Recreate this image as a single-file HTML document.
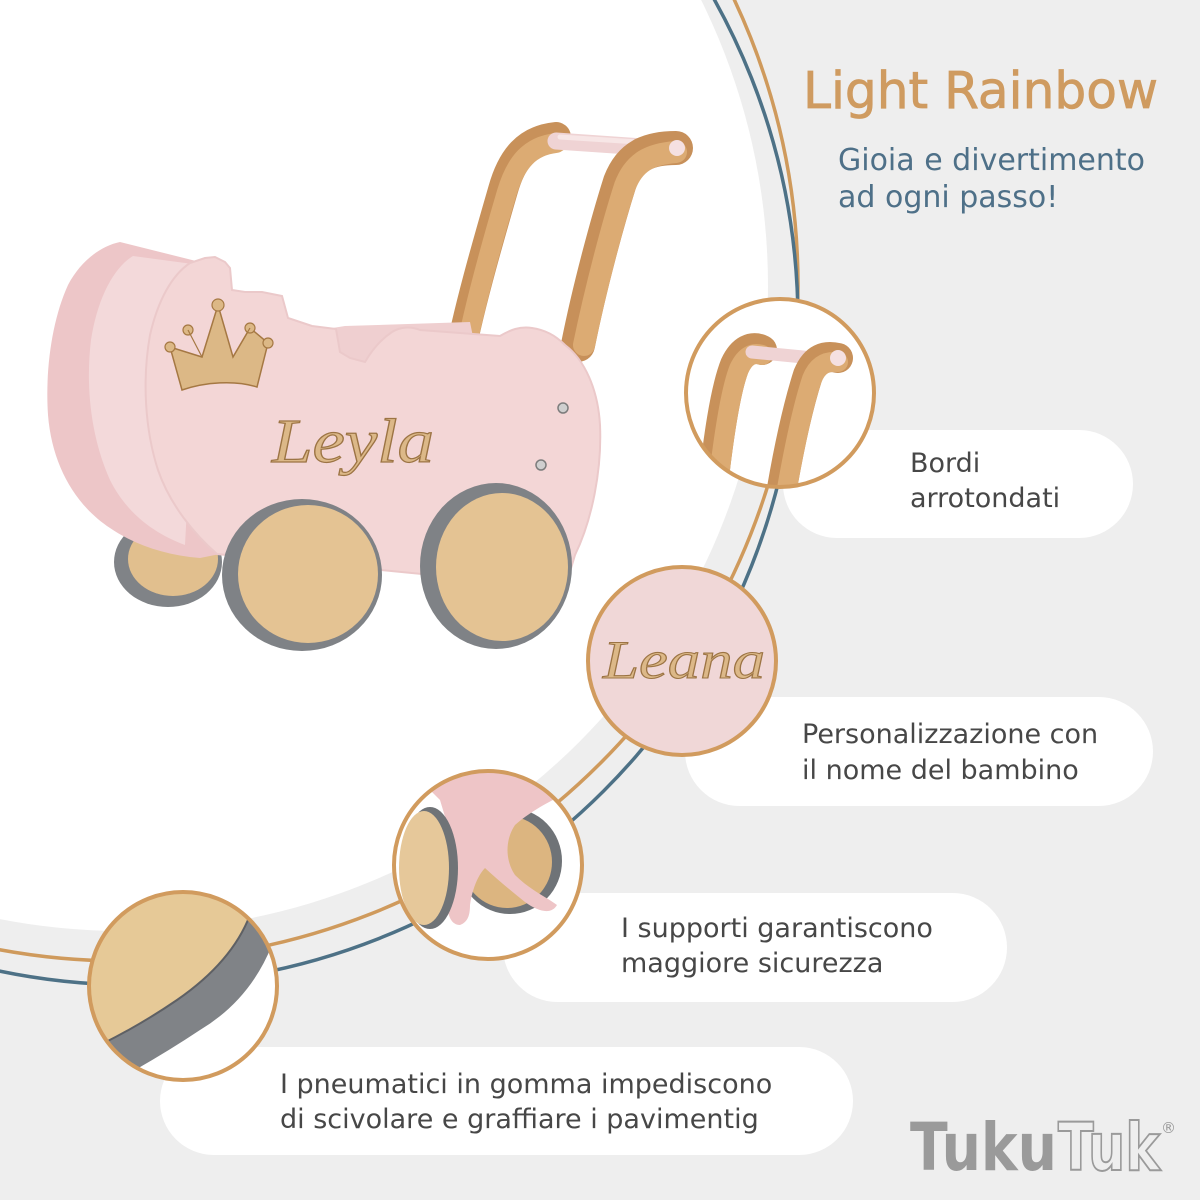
<!DOCTYPE html>
<html><head><meta charset="utf-8"><style>
html,body{margin:0;padding:0;background:#eeeeee;}
svg{display:block;}
</style></head><body>
<svg width="1200" height="1200" viewBox="0 0 1200 1200" xmlns="http://www.w3.org/2000/svg">
<defs>
<clipPath id="c1"><circle cx="780" cy="393" r="93"/></clipPath>
<clipPath id="c2"><circle cx="682" cy="661" r="93"/></clipPath>
<clipPath id="c3"><circle cx="488" cy="865" r="93"/></clipPath>
<clipPath id="c4"><circle cx="183" cy="986" r="93"/></clipPath>
</defs>
<rect width="1200" height="1200" fill="#eeeeee"/>
<circle cx="123" cy="286" r="645" fill="#ffffff"/>
<circle cx="123" cy="286" r="675" fill="none" stroke="#cf9a5c" stroke-width="3.5"/>
<circle cx="135" cy="322" r="663" fill="none" stroke="#4d7186" stroke-width="3.5"/>

<!-- pills -->
<rect x="783" y="430" width="350" height="108" rx="54" fill="#ffffff"/>
<rect x="685" y="697" width="468" height="109" rx="54.5" fill="#ffffff"/>
<rect x="503" y="893" width="504" height="109" rx="54.5" fill="#ffffff"/>
<rect x="160" y="1047" width="693" height="108" rx="54" fill="#ffffff"/>

<!-- stroller -->
<g>
  <!-- handles -->
  <path d="M458,365 C468,310 490,235 503,190 C512,158 527,140 556,137" fill="none" stroke="#c8915a" stroke-width="30" stroke-linecap="round"/>
  <path d="M463,365 C473,310 494,236 507,192 C516,162 530,146 556,143" fill="none" stroke="#dcab73" stroke-width="20" stroke-linecap="round"/>
  <line x1="556" y1="141" x2="672" y2="149" stroke="#efd3d4" stroke-width="17" stroke-linecap="round"/>
  <line x1="560" y1="137" x2="668" y2="144" stroke="#f7e6e6" stroke-width="5" stroke-linecap="round"/>
  <path d="M578,345 C590,285 608,220 620,182 C630,156 648,148 676,148" fill="none" stroke="#c7905a" stroke-width="34" stroke-linecap="round"/>
  <path d="M584,345 C596,287 613,223 625,186 C634,162 650,154 676,152" fill="none" stroke="#dcab73" stroke-width="22" stroke-linecap="round"/>
  <circle cx="677" cy="148" r="8" fill="#f5e0e1"/>
  <!-- back wheel -->
  <ellipse cx="168" cy="562" rx="54" ry="45" fill="#808387"/>
  <ellipse cx="173" cy="559" rx="45" ry="37" fill="#e1bf8e"/>
  <!-- back panel -->
  <path d="M120,242 C100,246 80,262 68,285 C52,320 45,370 48,415 C52,465 75,505 110,528 C135,545 165,555 200,558 L230,552 L200,262 Z" fill="#edc6c8"/>
  <path d="M133,256 C113,268 97,300 91,340 C85,390 92,440 110,480 C125,510 150,532 185,545 L200,265 Z" fill="#f3d9da"/>
  <!-- interior -->
  <path d="M320,330 L345,326 L470,322 L478,362 L320,362 Z" fill="#efcfd0"/>
  <!-- front panel -->
  <path d="M190,263 L205,258 L215,257 L225,262 L230,268 L232,290 L245,292 L262,292 L282,296 L288,318 L300,322 L312,326 L336,329 L340,352 L350,358 L365,362 C372,350 380,340 392,332 C400,327 410,326 420,330 L500,336 C510,330 520,326 532,328 C545,330 555,335 565,345 C585,360 598,390 600,425 C602,470 592,520 575,555 L565,588 L217,554 C195,535 170,505 158,470 C145,430 142,380 150,335 C158,300 172,275 190,263 Z" fill="#f3d6d6" stroke="#ebc9ca" stroke-width="2"/>
  <path d="M520,590 C530,598 540,610 548,622 C540,626 528,618 518,605 Z" fill="#eec7c9"/>
  <!-- crown -->
  <path d="M182,390 L170,347 L202,357 L218,305 L233,357 L250,328 L268,343 L257,387 C235,380 205,382 182,390 Z" fill="#dcb886" stroke="#a57843" stroke-width="1.5"/>
  <circle cx="170" cy="347" r="5" fill="#dcb886" stroke="#a57843" stroke-width="1.2"/>
  <circle cx="188" cy="330" r="5" fill="#dcb886" stroke="#a57843" stroke-width="1.2"/>
  <circle cx="218" cy="305" r="6" fill="#dcb886" stroke="#a57843" stroke-width="1.2"/>
  <circle cx="250" cy="328" r="5" fill="#dcb886" stroke="#a57843" stroke-width="1.2"/>
  <circle cx="268" cy="343" r="5" fill="#dcb886" stroke="#a57843" stroke-width="1.2"/>
  <line x1="188" y1="330" x2="202" y2="357" stroke="#a57843" stroke-width="1.2"/>
  <line x1="250" y1="328" x2="233" y2="357" stroke="#a57843" stroke-width="1.2"/>
  <!-- Leyla -->
  <text x="272" y="462" font-family="Liberation Serif, serif" font-style="italic" font-size="62" textLength="162" lengthAdjust="spacingAndGlyphs" fill="#dcb888" stroke="#9c7444" stroke-width="1.2">Leyla</text>
  <!-- screws -->
  <circle cx="563" cy="408" r="5" fill="#cfcfcf" stroke="#7d7d7d" stroke-width="1.5"/>
  <circle cx="541" cy="465" r="5" fill="#cfcfcf" stroke="#7d7d7d" stroke-width="1.5"/>
  <!-- front wheels -->
  <ellipse cx="302" cy="575" rx="80" ry="76" fill="#7f8286"/>
  <ellipse cx="308" cy="574" rx="70" ry="69" fill="#e4c393"/>
  <ellipse cx="496" cy="566" rx="76" ry="83" fill="#7f8286"/>
  <ellipse cx="502" cy="567" rx="66" ry="74" fill="#e4c393"/>
</g>

<!-- circle 1 -->
<g clip-path="url(#c1)">
  <rect x="680" y="290" width="200" height="200" fill="#ffffff"/>
  <path d="M712,495 C718,440 725,390 735,365 C742,350 752,345 762,350" fill="none" stroke="#c8915a" stroke-width="30" stroke-linecap="round"/>
  <path d="M717,495 C723,440 730,392 739,369 C745,356 753,352 762,355" fill="none" stroke="#dcab73" stroke-width="20" stroke-linecap="round"/>
  <line x1="752" y1="352" x2="834" y2="360" stroke="#efd3d4" stroke-width="13" stroke-linecap="round"/>
  <path d="M780,500 C790,440 800,400 808,375 C815,358 825,355 838,358" fill="none" stroke="#c8915a" stroke-width="30" stroke-linecap="round"/>
  <path d="M785,500 C795,442 804,403 812,379 C818,364 827,361 838,362" fill="none" stroke="#dcab73" stroke-width="20" stroke-linecap="round"/>
  <circle cx="838" cy="358" r="8" fill="#f5e0e1"/>
</g>
<circle cx="780" cy="393" r="94" fill="none" stroke="#d19b5e" stroke-width="4"/>

<!-- circle 2 -->
<g clip-path="url(#c2)">
  <rect x="585" y="565" width="200" height="200" fill="#f0d7d7"/>
  <text x="603" y="678" font-family="Liberation Serif, serif" font-style="italic" font-size="54" textLength="162" lengthAdjust="spacingAndGlyphs" fill="#dcb888" stroke="#9c7444" stroke-width="1.1">Leana</text>
</g>
<circle cx="682" cy="661" r="94" fill="none" stroke="#d19b5e" stroke-width="4"/>

<!-- circle 3 -->
<g clip-path="url(#c3)">
  <rect x="390" y="768" width="200" height="200" fill="#ffffff"/>
  <ellipse cx="510" cy="861" rx="52" ry="53" fill="#6f7377"/>
  <ellipse cx="507" cy="862" rx="45" ry="46" fill="#dcb580"/>
  <line x1="455" y1="862" x2="498" y2="858" stroke="#e3bb85" stroke-width="12" stroke-linecap="round"/>
  <path d="M410,770 L575,770 L575,790 C555,798 532,810 515,825 C505,840 505,860 515,875 C530,890 548,898 557,905 C552,914 540,913 525,902 C510,890 498,880 485,868 C478,875 472,890 470,905 C470,915 468,922 460,925 C450,925 446,912 448,898 C450,880 455,860 452,840 L440,800 Z" fill="#eec5c7"/>
  <ellipse cx="430" cy="868" rx="28" ry="61" fill="#6f7377"/>
  <ellipse cx="424" cy="868" rx="25" ry="57" fill="#e6c89a"/>
</g>
<circle cx="488" cy="865" r="94" fill="none" stroke="#d19b5e" stroke-width="4"/>

<!-- circle 4 -->
<g clip-path="url(#c4)">
  <rect x="85" y="888" width="200" height="200" fill="#ffffff"/>
  <path d="M80,880 L290,880 L272,945 Q250,1000 200,1030 Q170,1050 135,1070 L80,1078 Z" fill="#808387"/>
  <path d="M80,880 L290,880 L250,915 Q232,962 177,1000 Q142,1024 102,1044 L80,1048 Z" fill="#e6c997"/>
  <path d="M250,915 Q232,962 177,1000 Q142,1024 102,1044" fill="none" stroke="#5e6064" stroke-width="2"/>
</g>
<circle cx="183" cy="986" r="94" fill="none" stroke="#d19b5e" stroke-width="4"/>

<!-- title -->
<text x="803" y="108" font-family="DejaVu Sans, sans-serif" font-size="51" textLength="355" lengthAdjust="spacingAndGlyphs" fill="#cf9b60" stroke="#cf9b60" stroke-width="0.8">Light Rainbow</text>
<text x="838" y="170" font-family="DejaVu Sans, sans-serif" font-size="30" fill="#4e7088">Gioia e divertimento</text>
<text x="838" y="207" font-family="DejaVu Sans, sans-serif" font-size="30" fill="#4e7088">ad ogni passo!</text>

<!-- labels -->
<g font-family="DejaVu Sans, sans-serif" font-size="27" fill="#474747">
  <text x="910" y="472">Bordi</text>
  <text x="910" y="507">arrotondati</text>
  <text x="802" y="743">Personalizzazione con</text>
  <text x="802" y="779">il nome del bambino</text>
  <text x="621" y="937">I supporti garantiscono</text>
  <text x="621" y="972">maggiore sicurezza</text>
  <text x="280" y="1093">I pneumatici in gomma impediscono</text>
  <text x="280" y="1128">di scivolare e graffiare i pavimentig</text>
</g>

<!-- logo -->
<text x="910" y="1170" font-family="DejaVu Sans, sans-serif" font-weight="bold" font-size="66" textLength="147" lengthAdjust="spacingAndGlyphs" fill="#9a9a9a">Tuku</text>
<text x="1058" y="1170" font-family="DejaVu Sans, sans-serif" font-weight="bold" font-size="66" textLength="102" lengthAdjust="spacingAndGlyphs" fill="none" stroke="#9a9a9a" stroke-width="2">Tuk</text>
<text x="1161" y="1133" font-family="DejaVu Sans, sans-serif" font-size="15" fill="#9a9a9a">®</text>
</svg>
</body></html>
